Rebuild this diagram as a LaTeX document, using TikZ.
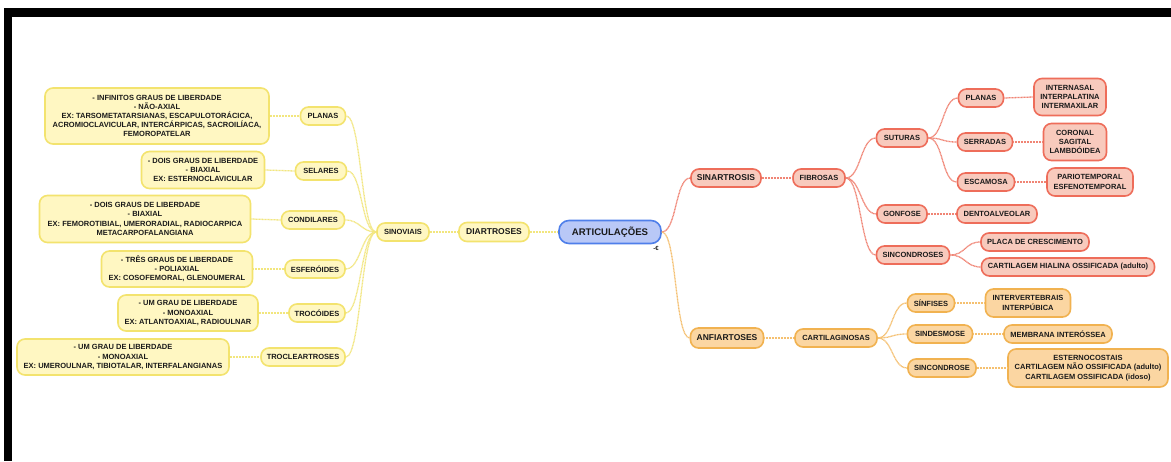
\documentclass[tikz,border=0pt]{standalone}
\usepackage{fontspec}
\setmainfont{Liberation Sans}
\definecolor{yfill}{HTML}{FFF7C2}
\definecolor{yline}{HTML}{F3E36E}
\definecolor{yconn}{HTML}{F2E67E}
\definecolor{rfill}{HTML}{F8CABD}
\definecolor{rline}{HTML}{EE6D5A}
\definecolor{rconn}{HTML}{F08474}
\definecolor{ofill}{HTML}{FBD6A2}
\definecolor{oline}{HTML}{F1B250}
\definecolor{oconn}{HTML}{F5C070}
\definecolor{bfill}{HTML}{B9C8F7}
\definecolor{bline}{HTML}{4F7FEA}
\definecolor{txt}{HTML}{1A1A1A}
\begin{document}
\begin{tikzpicture}[x=1pt,y=-1pt,
  box/.style={draw, line width=1.6pt, rounded corners=8pt, align=center, text=txt,
    font=\bfseries\fontsize{7.5}{9.2}\selectfont, inner xsep=3pt, inner ysep=1.5pt, minimum height=18},
  ybox/.style={box, fill=yfill, draw=yline},
  rbox/.style={box, fill=rfill, draw=rline},
  obox/.style={box, fill=ofill, draw=oline},
  bbox/.style={box, fill=bfill, draw=bline, rounded corners=10pt, font=\bfseries\fontsize{9.6}{11}\selectfont},
  lvl/.style={font=\bfseries\fontsize{8.5}{10}\selectfont},
  conn/.style={line width=1.3pt, dash pattern=on 1pt off 0.5pt},
  yc/.style={conn, draw=yconn},
  rc/.style={conn, draw=rconn},
  oc/.style={conn, draw=oconn},
  marktext/.style={text=txt, font=\bfseries\fontsize{6}{6}\selectfont, inner sep=0pt}
]
\useasboundingbox (0,0) rectangle (1171,461);
\fill[white] (0,0) rectangle (1171,461);
\fill[black] (4,8) rectangle (1171,17);
\fill[black] (4,8) rectangle (12,461);

% ---- left (yellow) ----
\node[ybox, minimum width=224, minimum height=56] (b1) at (157,116)
  {- INFINITOS GRAUS DE LIBERDADE\\- NÃO-AXIAL\\EX: TARSOMETATARSIANAS, ESCAPULOTORÁCICA,\\ACROMIOCLAVICULAR, INTERCÁRPICAS, SACROILÍACA,\\FEMOROPATELAR};
\node[ybox, minimum width=45] (planasL) at (323,116) {PLANAS};
\node[ybox, minimum width=123, minimum height=37] (b2) at (203,170)
  {- DOIS GRAUS DE LIBERDADE\\- BIAXIAL\\EX: ESTERNOCLAVICULAR};
\node[ybox, minimum width=51] (selares) at (321,171) {SELARES};
\node[ybox, minimum width=211, minimum height=47] (b3) at (145,219)
  {- DOIS GRAUS DE LIBERDADE\\- BIAXIAL\\EX: FEMOROTIBIAL, UMERORADIAL, RADIOCARPICA\\METACARPOFALANGIANA};
\node[ybox, minimum width=63] (condilares) at (313,220) {CONDILARES};
\node[ybox, minimum width=151, minimum height=36] (b4) at (177,269)
  {- TRÊS GRAUS DE LIBERDADE\\- POLIAXIAL\\EX: COSOFEMORAL, GLENOUMERAL};
\node[ybox, minimum width=60] (esferoides) at (315,269) {ESFERÓIDES};
\node[ybox, minimum width=140, minimum height=36] (b5) at (188,313)
  {- UM GRAU DE LIBERDADE\\- MONOAXIAL\\EX: ATLANTOAXIAL, RADIOULNAR};
\node[ybox, minimum width=56] (trocoides) at (317,313) {TROCÓIDES};
\node[ybox, minimum width=212, minimum height=36] (b6) at (123,357)
  {- UM GRAU DE LIBERDADE\\- MONOAXIAL\\EX: UMEROULNAR, TIBIOTALAR, INTERFALANGIANAS};
\node[ybox, minimum width=84] (troclear) at (303,357) {TROCLEARTROSES};
\node[ybox, minimum width=52] (sinoviais) at (403,232) {SINOVIAIS};
\node[ybox, lvl, minimum width=70, minimum height=19] (diartroses) at (494,232) {DIARTROSES};

% ---- root ----
\node[bbox, minimum width=102, minimum height=23] (root) at (610,232) {ARTICULAÇÕES};
\node[marktext] (mark) at (656,248) {-€};

% ---- right (red) ----
\node[rbox, lvl, minimum width=70] (sinartrosis) at (726,178) {SINARTROSIS};
\node[rbox, minimum width=52] (fibrosas) at (819,178) {FIBROSAS};
\node[rbox, minimum width=51] (suturas) at (902,138) {SUTURAS};
\node[rbox, minimum width=45] (planasR) at (981,98) {PLANAS};
\node[rbox, minimum width=72, minimum height=37] (internasal) at (1070,97) {INTERNASAL\\INTERPALATINA\\INTERMAXILAR};
\node[rbox, minimum width=55] (serradas) at (985,142) {SERRADAS};
\node[rbox, minimum width=63, minimum height=37] (coronal) at (1075,142) {CORONAL\\SAGITAL\\LAMBDÓIDEA};
\node[rbox, minimum width=57] (escamosa) at (986,182) {ESCAMOSA};
\node[rbox, minimum width=86, minimum height=28] (pario) at (1090,182) {PARIOTEMPORAL\\ESFENOTEMPORAL};
\node[rbox, minimum width=50] (gonfose) at (902,214) {GONFOSE};
\node[rbox, minimum width=80] (dento) at (997,214) {DENTOALVEOLAR};
\node[rbox, minimum width=73] (sincondroses) at (913,255) {SINCONDROSES};
\node[rbox, minimum width=108] (placa) at (1035,242) {PLACA DE CRESCIMENTO};
\node[rbox, minimum width=173] (hialina) at (1068,267) {CARTILAGEM HIALINA OSSIFICADA (adulto)};

% ---- right (orange) ----
\node[obox, lvl, minimum width=73, minimum height=20] (anfiartoses) at (727,338) {ANFIARTOSES};
\node[obox, minimum width=82] (cartilaginosas) at (836,338) {CARTILAGINOSAS};
\node[obox, minimum width=47] (sinfises) at (931,303) {SÍNFISES};
\node[obox, minimum width=85, minimum height=28] (interv) at (1028,303) {INTERVERTEBRAIS\\INTERPÚBICA};
\node[obox, minimum width=65] (sindesmose) at (940,334) {SINDESMOSE};
\node[obox, minimum width=108] (membrana) at (1058,334) {MEMBRANA INTERÓSSEA};
\node[obox, minimum width=68] (sincondrose) at (942,368) {SINCONDROSE};
\node[obox, minimum width=160, minimum height=38] (esterno) at (1088,368) {ESTERNOCOSTAIS\\CARTILAGEM NÃO OSSIFICADA (adulto)\\CARTILAGEM OSSIFICADA (idoso)};

% ---- connectors (yellow) ----
\draw[yc] (b1.east) -- (planasL.west);
\draw[yc] (b2.east) -- (selares.west);
\draw[yc] (b3.east) -- (condilares.west);
\draw[yc] (b4.east) -- (esferoides.west);
\draw[yc] (b5.east) -- (trocoides.west);
\draw[yc] (b6.east) -- (troclear.west);
\foreach \n in {planasL,selares,condilares,esferoides,trocoides,troclear}
  \draw[yc] (sinoviais.west) .. controls +(-15,0) and +(15,0) .. (\n.east);
\draw[yc] (sinoviais.east) -- (diartroses.west);
\draw[yc] (diartroses.east) -- (root.west);

% ---- connectors (red) ----
\draw[rc] (root.east) .. controls +(15,0) and +(-15,0) .. (sinartrosis.west);
\draw[rc] (sinartrosis.east) -- (fibrosas.west);
\foreach \n in {suturas,gonfose,sincondroses}
  \draw[rc] (fibrosas.east) .. controls +(15,0) and +(-15,0) .. (\n.west);
\foreach \n in {planasR,serradas,escamosa}
  \draw[rc] (suturas.east) .. controls +(15,0) and +(-15,0) .. (\n.west);
\draw[rc] (planasR.east) -- (internasal.west);
\draw[rc] (serradas.east) -- (coronal.west);
\draw[rc] (escamosa.east) -- (pario.west);
\draw[rc] (gonfose.east) -- (dento.west);
\foreach \n in {placa,hialina}
  \draw[rc] (sincondroses.east) .. controls +(15,0) and +(-15,0) .. (\n.west);

% ---- connectors (orange) ----
\draw[oc] (root.east) .. controls +(15,0) and +(-15,0) .. (anfiartoses.west);
\draw[oc] (anfiartoses.east) -- (cartilaginosas.west);
\foreach \n in {sinfises,sindesmose,sincondrose}
  \draw[oc] (cartilaginosas.east) .. controls +(15,0) and +(-15,0) .. (\n.west);
\draw[oc] (sinfises.east) -- (interv.west);
\draw[oc] (sindesmose.east) -- (membrana.west);
\draw[oc] (sincondrose.east) -- (esterno.west);
\end{tikzpicture}
\end{document}
